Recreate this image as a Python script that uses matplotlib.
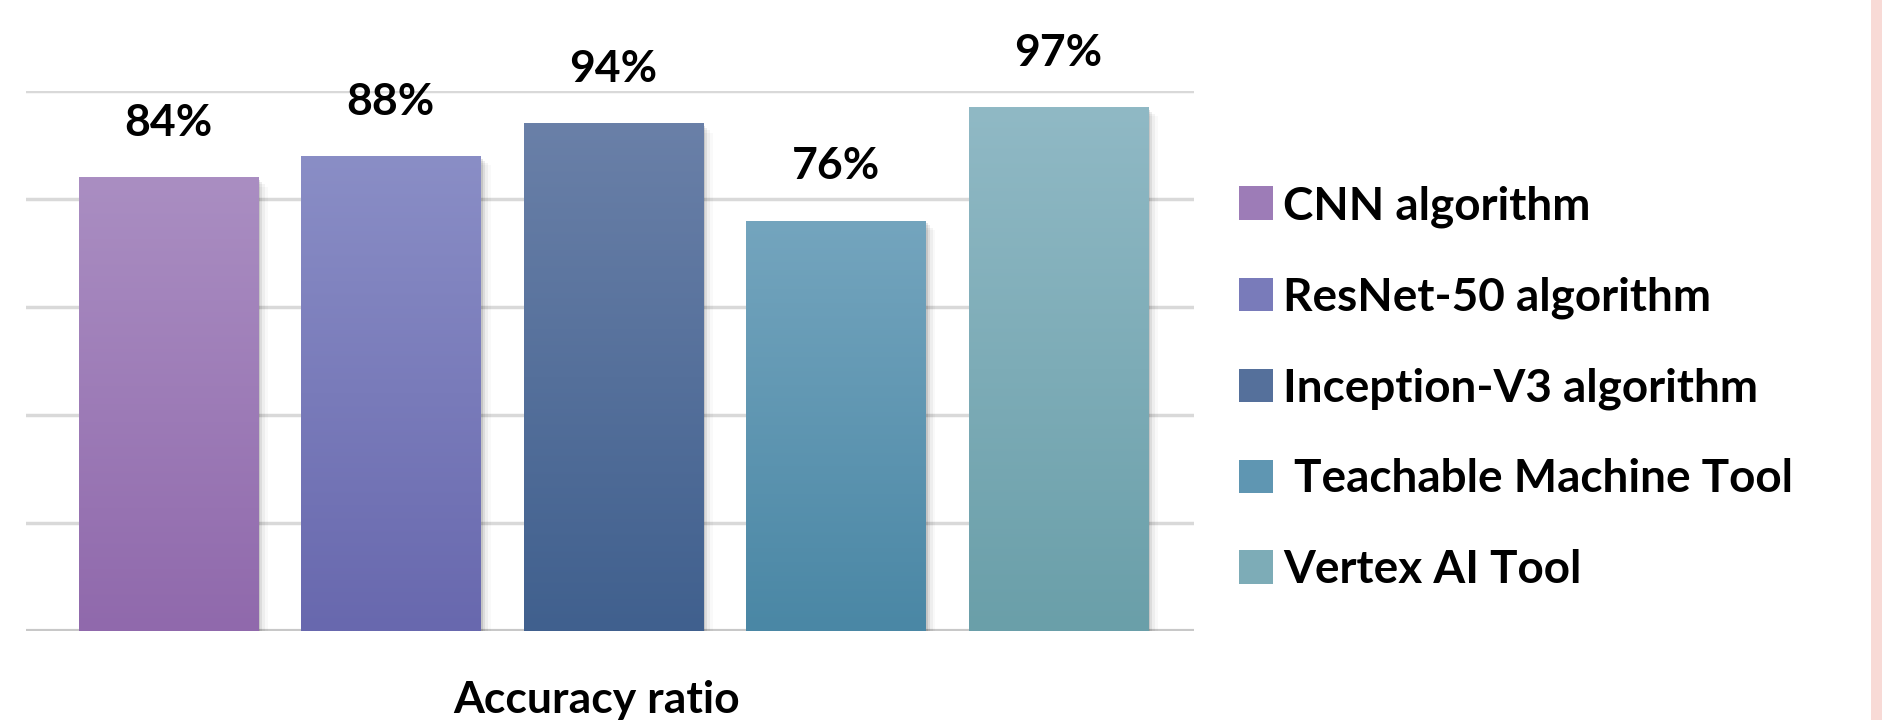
import numpy as np
import matplotlib
matplotlib.use("Agg")
import matplotlib.pyplot as plt
from matplotlib.patches import Rectangle, Patch
from matplotlib.colors import LinearSegmentedColormap

categories = ["CNN algorithm", "ResNet-50 algorithm", "Inception-V3 algorithm",
              " Teachable Machine Tool", "Vertex AI Tool"]
values = [84, 88, 94, 76, 97]
value_labels = ["84%", "88%", "94%", "76%", "97%"]
top_colors = ["#AA8EC2", "#8A8EC6", "#6A80A8", "#74A5BE", "#90B9C5"]
bottom_colors = ["#9069AC", "#6868AE", "#40608E", "#4A87A5", "#6A9FA9"]
xlabel = "Accuracy ratio"

FONT = ["Lato", "DejaVu Sans"]
plt.rcParams['font.family'] = FONT

fig = plt.figure(figsize=(18.82, 7.2), dpi=100)
ax = fig.add_axes([26/1882, 1 - 631/720, (1194-26)/1882, (631-91)/720])
ax.set_xlim(-0.64, 4.61)
ax.set_ylim(0, 100)

for s in ax.spines.values():
    s.set_visible(False)
ax.set_xticks([])
ax.set_yticks([20, 40, 60, 80, 100])
ax.tick_params(left=False, labelleft=False)
ax.yaxis.grid(True, color="#D9D9D9", linewidth=2.5)
ax.set_axisbelow(True)
ax.axhline(0, color="#C8C8C8", linewidth=3, zorder=1)

x = np.arange(len(values))
width = 0.806
# soft shadows
for dx, dy, a in [(0.010, -0.5, 0.10), (0.020, -0.9, 0.07), (0.032, -1.3, 0.045), (0.045, -1.7, 0.025)]:
    ax.bar(x + dx, values, width=width, bottom=dy, color="black",
           alpha=a, zorder=2, linewidth=0)
bars = ax.bar(x, values, width=width, color="none", zorder=3, linewidth=0)

grad = np.linspace(1, 0, 256).reshape(-1, 1)
for b, tc, bc in zip(bars, top_colors, bottom_colors):
    cmap = LinearSegmentedColormap.from_list("g", [bc, tc])
    x0, y0 = b.get_x(), b.get_y()
    w, h = b.get_width(), b.get_height()
    im = ax.imshow(grad, cmap=cmap, aspect="auto", extent=[x0, x0 + w, y0, y0 + h],
                   zorder=4, vmin=0, vmax=1, origin="upper")
    im.set_clip_path(b)

for xi, v, lab in zip(x, values, value_labels):
    ax.annotate(lab, (xi, v), xytext=(0, 39), textcoords="offset points",
                ha="center", va="center", fontsize=32, fontweight="bold",
                color="black", annotation_clip=False)

ax.set_xlim(-0.64, 4.61)
ax.set_ylim(0, 100)

fig.text((26 + 1194) / 2 / 1882 - 0.007, 1 - 700/720, xlabel, ha="center", va="center",
         fontsize=32, fontweight="bold")

mid_colors = []
for tc, bc in zip(top_colors, bottom_colors):
    c1 = np.array(matplotlib.colors.to_rgb(tc)); c2 = np.array(matplotlib.colors.to_rgb(bc))
    mid_colors.append((c1 + c2) / 2)
handles = [Patch(facecolor=c, edgecolor="none") for c in mid_colors]
leg = fig.legend(handles, categories, loc="center left",
                 bbox_to_anchor=(1239/1882, 1 - 388/720), bbox_transform=fig.transFigure,
                 frameon=False, borderpad=0, borderaxespad=0,
                 handlelength=0.74, handleheight=0.74, handletextpad=0.22,
                 labelspacing=1.06, prop={"size": 33, "weight": "bold", "family": FONT})

fig.patches.append(Rectangle((1871/1882, 0), 11/1882, 1, transform=fig.transFigure,
                             facecolor="#F8DAD6", edgecolor="none", zorder=0))

fig.savefig("out.png", dpi=100)
